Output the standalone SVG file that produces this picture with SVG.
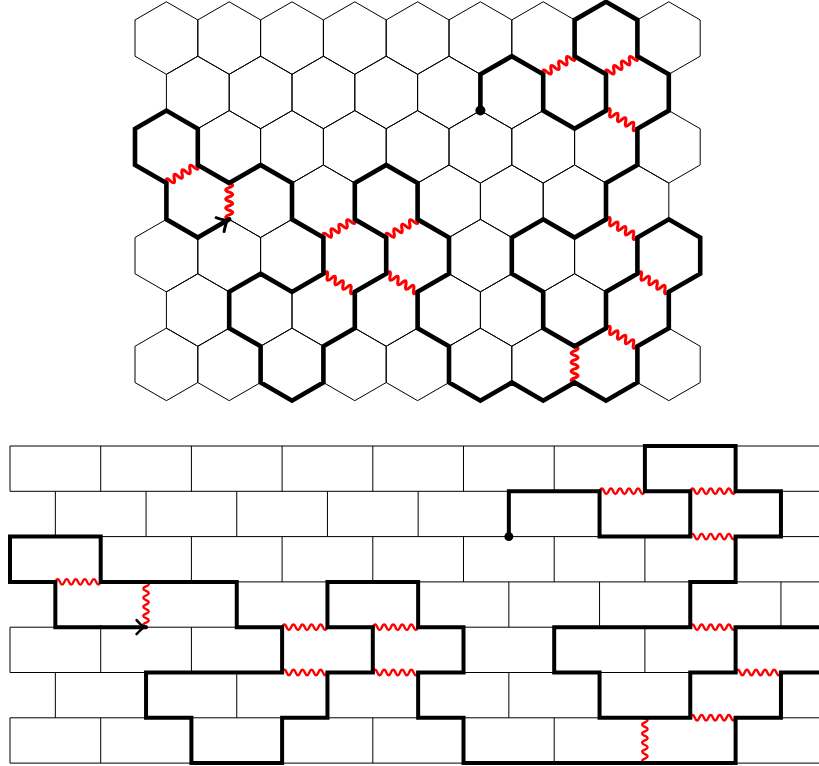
<svg xmlns="http://www.w3.org/2000/svg" xmlns:xlink="http://www.w3.org/1999/xlink" width="819" height="766" viewBox="0 0 819 766">
<style>
.thin{fill:none;stroke:#000;stroke-width:1}
.thick{fill:none;stroke:#000;stroke-width:4;stroke-linejoin:miter;stroke-linecap:round}
.hthick{stroke-width:4.6}
.wave{fill:none;stroke:#f00;stroke-width:2.4;stroke-linecap:round}
.hwave{stroke-width:3}
.wipe{fill:none;stroke:#fff;stroke-width:2.5}
.dot{fill:#000}
</style>
<defs>
<polygon id="hx" class="thin" points="0,-36.26 31.4,-18.13 31.4,18.13 0,36.26 -31.4,18.13 -31.4,-18.13"/>
<g id="rowE">
<use xlink:href="#hx" x="166.4"/><use xlink:href="#hx" x="229.2"/><use xlink:href="#hx" x="292"/><use xlink:href="#hx" x="354.8"/><use xlink:href="#hx" x="417.6"/><use xlink:href="#hx" x="480.4"/><use xlink:href="#hx" x="543.2"/><use xlink:href="#hx" x="606"/><use xlink:href="#hx" x="668.8"/>
</g>
<g id="rowO">
<use xlink:href="#hx" x="197.8"/><use xlink:href="#hx" x="260.6"/><use xlink:href="#hx" x="323.4"/><use xlink:href="#hx" x="386.2"/><use xlink:href="#hx" x="449"/><use xlink:href="#hx" x="511.8"/><use xlink:href="#hx" x="574.6"/><use xlink:href="#hx" x="637.4"/>
</g>
<path id="colE" class="thin" d="M0 446v45.3m0 45.3v45.3m0 45.3v45.3m0 45.3v45.3"/>
<path id="colO" class="thin" d="M0 491.3v45.3m0 45.3v45.3m0 45.3v45.3"/>
<g id="wh">
<path class="wipe" d="M2 0H34.26"/>
<path class="wave hwave" d="M0 0q2.266-7 4.533 0t4.533 0t4.533 0t4.533 0t4.533 0t4.533 0t4.533 0t4.533 0"/>
</g>
<g id="wb">
<path class="wipe" d="M2 0H43.35"/>
<path class="wave" d="M0 0q2.268-5.5 4.535 0t4.535 0t4.535 0t4.535 0t4.535 0t4.535 0t4.535 0t4.535 0t4.535 0t4.535 0"/>
</g>
<marker id="arr" markerUnits="userSpaceOnUse" orient="auto" refX="2" refY="0" markerWidth="20" markerHeight="20" overflow="visible">
<path d="M-7.5-7Q-2.5-1.5 0 0Q-2.5 1.5-7.5 7" fill="none" stroke="#000" stroke-width="2.5" stroke-linecap="round" stroke-linejoin="round"/>
</marker>
<marker id="harr" markerUnits="userSpaceOnUse" orient="auto" refX="2" refY="0" markerWidth="20" markerHeight="20" overflow="visible">
<path d="M-8.5-8Q-3-1.7 0 0Q-3 1.7-8.5 8" fill="none" stroke="#000" stroke-width="3" stroke-linecap="round" stroke-linejoin="round"/>
</marker>
</defs>
<rect width="819" height="766" fill="#fff"/>

<g id="hex-lattice">
<use xlink:href="#rowE" y="38.06"/>
<use xlink:href="#rowO" y="92.45"/>
<use xlink:href="#rowE" y="146.84"/>
<use xlink:href="#rowO" y="201.23"/>
<use xlink:href="#rowE" y="255.62"/>
<use xlink:href="#rowO" y="310.01"/>
<use xlink:href="#rowE" y="364.4"/>
</g>

<g id="hex-connectors">
<g id="hex-waves">
<use xlink:href="#wh" transform="translate(166.4 183.1) rotate(-30)"/>
<use xlink:href="#wh" transform="translate(229.2 183.1) rotate(90)"/>
<use xlink:href="#wh" transform="translate(323.4 237.49) rotate(-30)"/>
<use xlink:href="#wh" transform="translate(323.4 273.75) rotate(30)"/>
<use xlink:href="#wh" transform="translate(386.2 237.49) rotate(-30)"/>
<use xlink:href="#wh" transform="translate(386.2 273.75) rotate(30)"/>
<use xlink:href="#wh" transform="translate(574.6 346.27) rotate(90)"/>
<use xlink:href="#wh" transform="translate(606 328.14) rotate(30)"/>
<use xlink:href="#wh" transform="translate(637.4 273.75) rotate(30)"/>
<use xlink:href="#wh" transform="translate(606 219.36) rotate(30)"/>
<use xlink:href="#wh" transform="translate(606 110.58) rotate(30)"/>
<use xlink:href="#wh" transform="translate(606 74.32) rotate(-30)"/>
<use xlink:href="#wh" transform="translate(543.2 74.32) rotate(-30)"/>
</g>
<polyline id="hex-loop" class="thick hthick" points="197.8,237.49 166.4,219.36 166.4,183.1 135,164.97 135,128.71 166.4,110.58 197.8,128.71 197.8,164.97 229.2,183.1 260.6,164.97 292,183.1 292,219.36 323.4,237.49 323.4,273.75 292,291.88 260.6,273.75 229.2,291.88 229.2,328.14 260.6,346.27 260.6,382.53 292,400.66 323.4,382.53 323.4,346.27 354.8,328.14 354.8,291.88 386.2,273.75 386.2,237.49 354.8,219.36 354.8,183.1 386.2,164.97 417.6,183.1 417.6,219.36 449,237.49 449,273.75 417.6,291.88 417.6,328.14 449,346.27 449,382.53 480.4,400.66 511.8,382.53 543.2,400.66 574.6,382.53 606,400.66 637.4,382.53 637.4,346.27 668.8,328.14 668.8,291.88 700.2,273.75 700.2,237.49 668.8,219.36 637.4,237.49 637.4,273.75 606,291.88 606,328.14 574.6,346.27 543.2,328.14 543.2,291.88 511.8,273.75 511.8,237.49 543.2,219.36 574.6,237.49 606,219.36 606,183.1 637.4,164.97 637.4,128.71 668.8,110.58 668.8,74.32 637.4,56.19 637.4,19.93 606,1.8 574.6,19.93 574.6,56.19 606,74.32 606,110.58 574.6,128.71 543.2,110.58 543.2,74.32 511.8,56.19 480.4,74.32 480.4,110.58"/>
<path id="hex-arrow" class="thick hthick" d="M197.8 237.49L229.2 219.36" marker-end="url(#harr)"/>
<circle id="hex-start" class="dot" cx="480.4" cy="110.58" r="5"/>
</g>

<g id="brick-lattice">
<path class="thin" d="M10 446H830M10 491.3H830M10 536.6H830M10 581.9H830M10 627.2H830M10 672.5H830M10 717.8H830M10 763.1H830"/>
<use xlink:href="#colE" x="10"/><use xlink:href="#colE" x="100.7"/><use xlink:href="#colE" x="191.4"/><use xlink:href="#colE" x="282.1"/><use xlink:href="#colE" x="372.8"/><use xlink:href="#colE" x="463.5"/><use xlink:href="#colE" x="554.2"/><use xlink:href="#colE" x="644.9"/><use xlink:href="#colE" x="735.6"/>
<use xlink:href="#colO" x="55.35"/><use xlink:href="#colO" x="146.05"/><use xlink:href="#colO" x="236.75"/><use xlink:href="#colO" x="327.45"/><use xlink:href="#colO" x="418.15"/><use xlink:href="#colO" x="508.85"/><use xlink:href="#colO" x="599.55"/><use xlink:href="#colO" x="690.25"/><use xlink:href="#colO" x="780.95"/>
</g>

<g id="brick-connectors">
<g id="brick-waves">
<use xlink:href="#wb" transform="translate(55.35 581.9)"/>
<use xlink:href="#wb" transform="translate(146.05 581.9) rotate(90)"/>
<use xlink:href="#wb" transform="translate(282.1 627.2)"/>
<use xlink:href="#wb" transform="translate(282.1 672.5)"/>
<use xlink:href="#wb" transform="translate(372.8 627.2)"/>
<use xlink:href="#wb" transform="translate(372.8 672.5)"/>
<use xlink:href="#wb" transform="translate(644.9 717.8) rotate(90)"/>
<use xlink:href="#wb" transform="translate(690.25 717.8)"/>
<use xlink:href="#wb" transform="translate(735.6 672.5)"/>
<use xlink:href="#wb" transform="translate(690.25 627.2)"/>
<use xlink:href="#wb" transform="translate(690.25 536.6)"/>
<use xlink:href="#wb" transform="translate(690.25 491.3)"/>
<use xlink:href="#wb" transform="translate(599.55 491.3)"/>
</g>
<polyline id="brick-loop" class="thick" points="100.7,627.2 55.35,627.2 55.35,581.9 10,581.9 10,536.6 100.7,536.6 100.7,581.9 236.75,581.9 236.75,627.2 282.1,627.2 282.1,672.5 146.05,672.5 146.05,717.8 191.4,717.8 191.4,763.1 282.1,763.1 282.1,717.8 327.45,717.8 327.45,672.5 372.8,672.5 372.8,627.2 327.45,627.2 327.45,581.9 418.15,581.9 418.15,627.2 463.5,627.2 463.5,672.5 418.15,672.5 418.15,717.8 463.5,717.8 463.5,763.1 735.6,763.1 735.6,717.8 780.95,717.8 780.95,672.5 826.3,672.5 826.3,627.2 735.6,627.2 735.6,672.5 690.25,672.5 690.25,717.8 599.55,717.8 599.55,672.5 554.2,672.5 554.2,627.2 690.25,627.2 690.25,581.9 735.6,581.9 735.6,536.6 780.95,536.6 780.95,491.3 735.6,491.3 735.6,446 644.9,446 644.9,491.3 690.25,491.3 690.25,536.6 599.55,536.6 599.55,491.3 508.85,491.3 508.85,536.6"/>
<path id="brick-arrow" class="thick" d="M100.7 627.2H146.05" marker-end="url(#arr)"/>
<circle id="brick-start" class="dot" cx="508.85" cy="536.6" r="4.5"/>
</g>
</svg>
